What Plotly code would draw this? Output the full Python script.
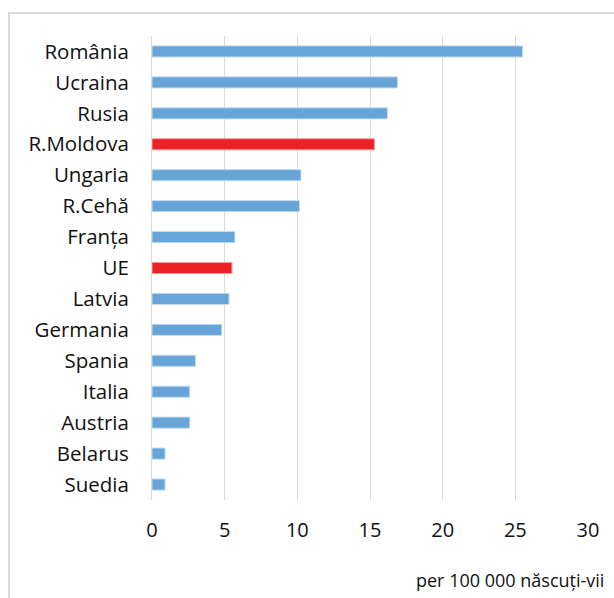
import plotly.graph_objects as go

countries = ["România", "Ucraina", "Rusia", "R.Moldova", "Ungaria", "R.Cehă", "Franța",
             "UE", "Latvia", "Germania", "Spania", "Italia", "Austria", "Belarus", "Suedia"]
values = [25.5, 16.9, 16.2, 15.3, 10.25, 10.15, 5.7, 5.5, 5.3, 4.8, 3.0, 2.6, 2.6, 0.9, 0.9]
highlight = ["R.Moldova", "UE"]
x_ticks = [0, 5, 10, 15, 20, 25, 30]
axis_title = "per 100 000 născuți-vii"

BLUE = "#67A5D8"
RED = "#EE2027"
colors = [RED if c in highlight else BLUE for c in countries]
line_colors = ["#F49A9D" if c in highlight else "#C3DCF0" for c in countries]

FONT = "Open Sans"

W, H = 614, 598
L, R, T, B = 152, 26, 36, 98
pw, ph = W - L - R, H - T - B

def px_x(p):
    return (p - L) / pw

def px_y(p):
    return (H - B - p) / ph

fig = go.Figure(go.Bar(
    x=values, y=countries, orientation="h",
    marker=dict(color=colors, line=dict(color=line_colors, width=1)),
    width=0.36,
))

fig.update_layout(
    width=W, height=H,
    margin=dict(l=L, r=R, t=T, b=B),
    plot_bgcolor="white", paper_bgcolor="white",
    showlegend=False,
    font=dict(family=FONT, size=20, color="#000000"),
    xaxis=dict(range=[0, 30], tickvals=x_ticks, showgrid=True, gridcolor="#D9D9D9",
               gridwidth=1, zeroline=False, showline=False, ticks="",
               ticklabelstandoff=16, tickfont=dict(family=FONT, size=20, color="#111")),
    yaxis=dict(categoryorder="array", categoryarray=countries, autorange="reversed",
               showline=True, linecolor="#D9D9D9", linewidth=1, ticks="",
               showgrid=False, ticklabelstandoff=18,
               tickfont=dict(family=FONT, size=20.5, color="#111")),
    shapes=[dict(type="rect", xref="paper", yref="paper",
                 x0=px_x(9), x1=px_x(640), y0=px_y(620), y1=px_y(13),
                 line=dict(color="#D9D9D9", width=2), fillcolor="rgba(0,0,0,0)", layer="below")],
    annotations=[dict(text=axis_title, xref="paper", yref="paper",
                      x=px_x(414), y=px_y(580), xanchor="left", yanchor="middle",
                      showarrow=False, font=dict(family=FONT, size=18, color="#111"))],
)

fig.write_html("out.html")
